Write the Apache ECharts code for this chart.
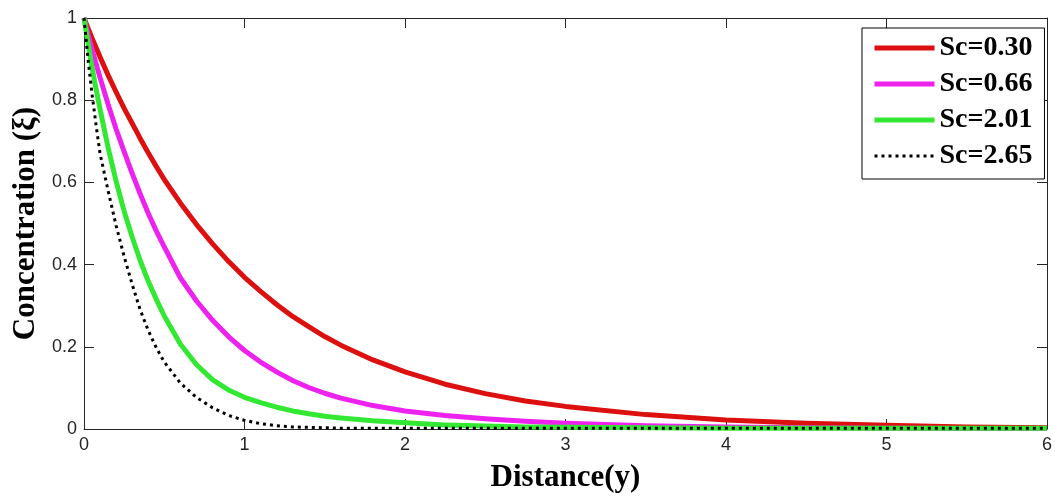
<!DOCTYPE html>
<html>
<head>
<meta charset="utf-8">
<script src="https://cdn.jsdelivr.net/npm/echarts@6/dist/echarts.min.js"></script>
<style>
html,body{margin:0;padding:0;background:#fff;}
#chart{width:1055px;height:498px;}
</style>
</head>
<body>
<div id="chart"></div>
<script>
// Distance (y) sample positions
const distance = [0, 0.025, 0.05, 0.075, 0.1, 0.15, 0.2, 0.25, 0.3, 0.35, 0.4, 0.45, 0.5, 0.6, 0.7, 0.8, 0.9, 1.0, 1.1, 1.2, 1.3, 1.4, 1.5, 1.6, 1.8, 2.0, 2.25, 2.5, 2.75, 3.0, 3.5, 4.0, 4.5, 5.0, 5.5, 6.0];
// Concentration values
const sc030 = [1, 0.975, 0.951, 0.928, 0.905, 0.861, 0.82, 0.78, 0.744, 0.707, 0.672, 0.639, 0.607, 0.55, 0.498, 0.451, 0.408, 0.369, 0.335, 0.303, 0.274, 0.249, 0.225, 0.204, 0.168, 0.139, 0.109, 0.086, 0.068, 0.055, 0.035, 0.022, 0.014, 0.009, 0.005, 0.003];
const sc066 = [1, 0.96, 0.924, 0.889, 0.855, 0.79, 0.73, 0.675, 0.622, 0.572, 0.525, 0.482, 0.443, 0.368, 0.312, 0.265, 0.225, 0.191, 0.163, 0.139, 0.118, 0.101, 0.087, 0.075, 0.057, 0.044, 0.033, 0.025, 0.019, 0.014, 0.008, 0.005, 0.003, 0.002, 0.001, 0.001];
const sc201 = [1, 0.94, 0.88, 0.828, 0.778, 0.685, 0.603, 0.53, 0.467, 0.41, 0.36, 0.316, 0.275, 0.207, 0.157, 0.12, 0.095, 0.077, 0.064, 0.053, 0.044, 0.037, 0.031, 0.027, 0.02, 0.015, 0.01, 0.007, 0.005, 0.004, 0.003, 0.002, 0.002, 0.002, 0.002, 0.002];
const sc265 = [1, 0.9, 0.815, 0.74, 0.67, 0.58, 0.495, 0.42, 0.352, 0.29, 0.24, 0.198, 0.163, 0.112, 0.077, 0.052, 0.033, 0.021, 0.013, 0.008, 0.005, 0.004, 0.003, 0.002, 0.002, 0.002, 0.002, 0.002, 0.002, 0.002, 0.002, 0.002, 0.002, 0.002, 0.002, 0.002];
const seriesNames = ['Sc=0.30', 'Sc=0.66', 'Sc=2.01', 'Sc=2.65'];
const xTicks = [0, 1, 2, 3, 4, 5, 6];
const yTicks = [0, 0.2, 0.4, 0.6, 0.8, 1];

const pairs = arr => distance.map((x, i) => [x, arr[i]]);
const serif = 'Liberation Serif, Times New Roman, serif';
const sans = 'Liberation Sans, Arial, sans-serif';
const axisCol = '#262626';

const chart = echarts.init(document.getElementById('chart'), null, {renderer: 'canvas'});

function xAx(pos, showLabel) {
  return {
    type: 'value', position: pos, min: xTicks[0], max: xTicks[xTicks.length - 1], interval: 1,
    axisLine: {show: true, onZero: false, lineStyle: {color: axisCol, width: 1}},
    axisTick: {show: true, inside: true, length: 10, lineStyle: {color: axisCol}},
    axisLabel: {show: showLabel, color: axisCol, fontFamily: sans, fontSize: 18, margin: 7},
    splitLine: {show: false},
    name: showLabel ? 'Distance(y)' : '', nameLocation: 'middle', nameGap: 33,
    nameTextStyle: {fontFamily: serif, fontWeight: 'bold', fontSize: 31, color: '#000'}
  };
}
function yAx(pos, showLabel) {
  return {
    type: 'value', position: pos, min: yTicks[0], max: yTicks[yTicks.length - 1], interval: 0.2,
    axisLine: {show: true, onZero: false, lineStyle: {color: axisCol, width: 1}},
    axisTick: {show: true, inside: true, length: 10, lineStyle: {color: axisCol}},
    axisLabel: {show: showLabel, color: axisCol, fontFamily: sans, fontSize: 18, margin: 7},
    splitLine: {show: false},
    name: showLabel ? 'Concentration (\u03BE)' : '', nameLocation: 'middle', nameGap: 42,
    nameTextStyle: {fontFamily: serif, fontWeight: 'bold', fontSize: 31, color: '#000'}
  };
}

const colors = ['#dd1010', '#ee22ee', '#33e833', '#000000'];
const widths = [5, 5, 5, 3];
const dash = [3, 4];
const datas = [sc030, sc066, sc201, sc265];

chart.setOption({
  animation: false,
  backgroundColor: '#ffffff',
  grid: {left: 84, right: 3, top: 18, bottom: 67, containLabel: false},
  xAxis: [xAx('bottom', true), xAx('top', false)],
  yAxis: [yAx('left', true), yAx('right', false)],
  legend: {
    orient: 'vertical', left: 862, top: 28,
    padding: [6, 12, 9, 10],
    borderColor: '#000', borderWidth: 1, backgroundColor: '#fff',
    itemWidth: 60, itemHeight: 14, itemGap: 8,
    itemStyle: {opacity: 0},
    textStyle: {fontFamily: serif, fontWeight: 'bold', fontSize: 28, color: '#000', lineHeight: 28},
    data: seriesNames.map((n, i) => ({
      name: n,
      itemStyle: {opacity: 0},
      lineStyle: {width: i === 3 ? 3 : 5, color: colors[i], type: i === 3 ? dash : 'solid', cap: 'butt'}
    }))
  },
  series: datas.map((d, i) => ({
    name: seriesNames[i], type: 'line', xAxisIndex: 0, yAxisIndex: 0,
    data: pairs(d), symbol: 'none', smooth: false,
    clip: true,
    lineStyle: {color: colors[i], width: widths[i], type: i === 3 ? dash : 'solid', cap: 'butt', join: 'round'},
    itemStyle: {color: colors[i]},
    z: 2 + i
  }))
});
</script>
</body>
</html>
